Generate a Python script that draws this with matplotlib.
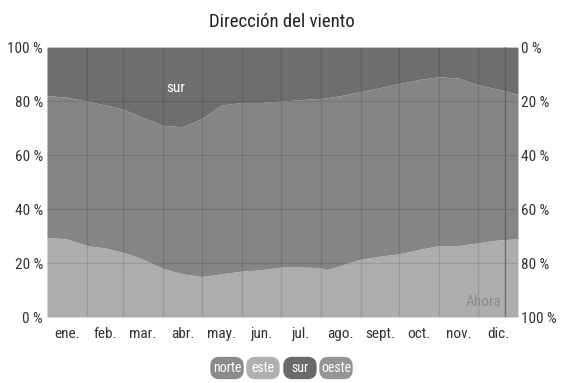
import numpy as np
import matplotlib.pyplot as plt
from matplotlib import font_manager
from matplotlib.patches import FancyBboxPatch

# data (day of year -> % of hours per wind direction)
days = [0, 15, 31, 46, 59, 74, 90, 105, 120, 135, 151, 166, 181, 196,
        212, 217, 227, 243, 258, 273, 288, 304, 319, 334, 349, 365]
este = [29.5, 29.0, 26.5, 25.5, 24.0, 21.5, 18.0, 16.0, 15.0, 16.0, 17.0,
        17.5, 18.5, 18.5, 18.3, 17.6, 19.0, 21.5, 22.5, 23.5, 25.0, 26.5,
        26.5, 27.5, 28.5, 29.0]
sur = [18.0, 18.5, 20.0, 21.5, 23.0, 26.0, 29.0, 29.5, 26.5, 21.5, 20.5,
       20.5, 20.0, 19.5, 19.0, 18.8, 18.0, 16.5, 15.0, 13.5, 12.0, 11.0,
       11.5, 14.0, 15.5, 17.5]
month_labels = ["ene.", "feb.", "mar.", "abr.", "may.", "jun.", "jul.",
                "ago.", "sept.", "oct.", "nov.", "dic."]
month_len = [31, 28, 31, 30, 31, 30, 31, 31, 30, 31, 30, 31]
today = 355
legend_names = ["norte", "este", "sur", "oeste"]
legend_cols = ["#8a8a8a", "#b0b0b0", "#6a6a6a", "#959595"]

# pick a narrow font if one is installed
names = {f.name for f in font_manager.fontManager.ttflist}
fam = "Liberation Sans"
for cand in ["Liberation Sans Narrow", "Roboto Condensed", "Open Sans Condensed"]:
    if cand in names:
        fam = cand
        break
plt.rcParams["font.family"] = [fam, "DejaVu Sans"]
fs = 11 if "Narrow" in fam or "Condensed" in fam else 10

x = np.array(days)
lo = np.array(este)
hi = 100 - np.array(sur)

W, H = 564, 383
fig = plt.figure(figsize=(W / 100, H / 100), dpi=100)
ax = fig.add_axes([0.0833, 0.1723, 0.8351, 0.7047])

ax.fill_between(x, 0, lo, color="#adadad", linewidth=0)
ax.fill_between(x, lo, hi, color="#858585", linewidth=0)
ax.fill_between(x, hi, 100, color="#6e6e6e", linewidth=0)

ax.set_xlim(0, 365)
ax.set_ylim(0, 100)

# grid
bounds = np.cumsum([0] + month_len)
for b in bounds[1:-1]:
    ax.axvline(b, color="black", alpha=0.1, lw=1)
for y in range(20, 100, 20):
    ax.axhline(y, color="black", alpha=0.1, lw=1)
ax.axvline(today, color="#555555", lw=1, alpha=0.7)

for s in ax.spines.values():
    s.set_visible(False)

mids = (bounds[:-1] + bounds[1:]) / 2
ax.set_xticks(mids)
ax.set_xticklabels(month_labels, fontsize=fs, color="#333333")
ax.set_yticks(range(0, 101, 20))
ax.set_yticklabels([f"{v} %" for v in range(0, 101, 20)], fontsize=fs, color="#333333")
ax.tick_params(axis="y", length=0, pad=3)
ax.tick_params(axis="x", length=0, pad=7)

ax2 = ax.twinx()
ax2.set_ylim(100, 0)
ax2.set_yticks(range(0, 101, 20))
ax2.set_yticklabels([f"{v} %" for v in range(0, 101, 20)], fontsize=fs, color="#333333")
ax2.tick_params(length=0, pad=2)
for s in ax2.spines.values():
    s.set_visible(False)

ax.text(100, 85, "sur", color="white", fontsize=fs, ha="center", va="center")
ax.text(today - 3, 3, "Ahora", color="#8c8c8c", fontsize=fs, ha="right", va="bottom")

fig.text(0.5, 0.943, "Dirección del viento", ha="center", va="center",
         fontsize=13.5, color="#222222")

# legend boxes (fixed size, rounded)
lx = [227, 263, 300, 336]
bw, bh, by = 31, 20, 15
for name, col, cx in zip(legend_names, legend_cols, lx):
    box = FancyBboxPatch(((cx - bw / 2 + 3) / W, (by - bh / 2 + 3) / H),
                         (bw - 6) / W, (bh - 6) / H,
                         boxstyle="round,pad=0,rounding_size=0.008",
                         transform=fig.transFigure, fc=col, ec=col, lw=6,
                         mutation_aspect=W / H)
    fig.add_artist(box)
    fig.text(cx / W, by / H, name, ha="center", va="center",
             fontsize=fs - 1, color="white")

fig.savefig("out.png", dpi=100)
